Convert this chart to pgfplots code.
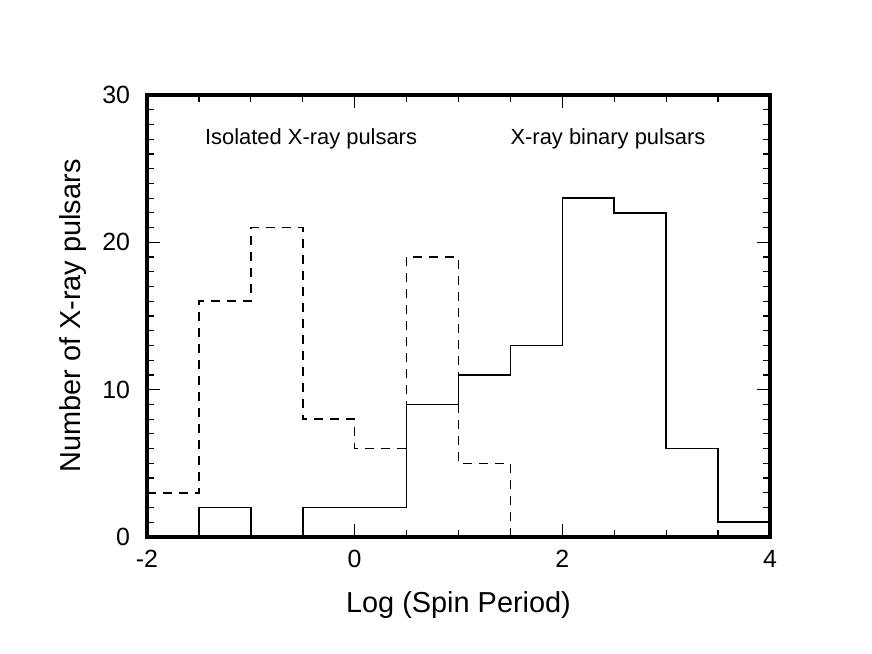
\documentclass[border=0pt]{standalone}
\usepackage{fontspec}
\setmainfont{Liberation Sans}
\usepackage{pgfplots}
\pgfplotsset{compat=1.18}

\begin{document}
\begin{tikzpicture}
\path[use as bounding box] (0,0) rectangle (436bp,327bp);
\begin{axis}[
  at={(73.5bp,58.5bp)}, anchor=south west,
  scale only axis, width=311.5bp, height=221bp,
  xmin=-2, xmax=4, ymin=0, ymax=30,
  xtick={-2,0,2,4}, xticklabels={-2,0,2,4},
  minor xtick={-1.5,-1,-0.5,0.5,1,1.5,2.5,3,3.5},
  ytick={0,10,20,30}, yticklabels={0,10,20,30},
  minor ytick={1,...,9,11,12,...,19,21,22,...,29},
  tick align=inside,
  major tick length=6.5bp, minor tick length=3.5bp,
  tick style={black, line width=0.6bp},
  axis line style={line width=1.7bp},
  ticklabel style={font=\fontsize{12.5}{14}\selectfont},
  xticklabel style={yshift=-3bp},
  yticklabel style={xshift=-5bp},
  xlabel={Log (Spin Period)},
  ylabel={Number of X-ray pulsars},
  label style={font=\fontsize{14.5}{17}\selectfont},
  xlabel style={yshift=-5bp},
  ylabel style={yshift=1bp},
]
\addplot[const plot, line width=0.8bp, dash pattern=on 4.5bp off 3.5bp] coordinates {
  (-2,3) (-1.5,16) (-1,21) (-0.5,8) (0,6) (0.5,19) (1,5) (1.5,0) (4,0)
};
\addplot[const plot, line width=0.8bp] coordinates {
  (-2,0) (-1.5,2) (-1,0) (-0.5,2) (0,2) (0.5,9) (1,11) (1.5,13)
  (2,23) (2.5,22) (3,6) (3.5,1) (4,1)
};
\node[font=\fontsize{11}{13}\selectfont] at (axis cs:-0.42,27) {Isolated X-ray pulsars};
\node[font=\fontsize{11}{13}\selectfont] at (axis cs:2.44,27) {X-ray binary pulsars};
\end{axis}
\end{tikzpicture}
\end{document}
